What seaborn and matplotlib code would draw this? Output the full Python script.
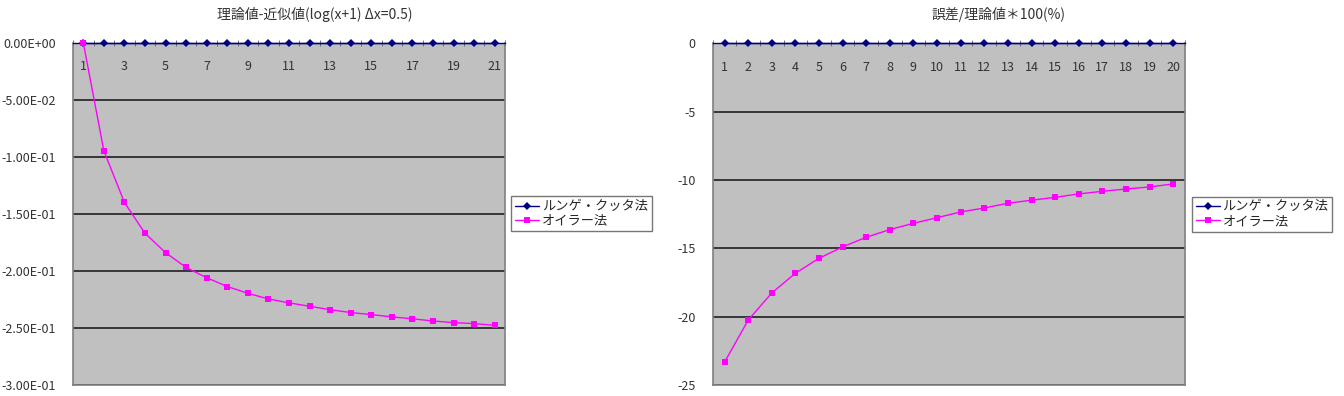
import numpy as np
import pandas as pd
import matplotlib
matplotlib.use("Agg")
import matplotlib.pyplot as plt
from matplotlib.ticker import FuncFormatter, FixedLocator
import seaborn as sns

sns.set_style("white")
plt.rcParams['font.family'] = ['Noto Sans CJK JP', 'DejaVu Sans']

series_names = ["ルンゲ・クッタ法", "オイラー法"]

# Left chart: theoretical - approximate
left_x = list(range(1, 22))
left_rk = [0.0] * 21
left_euler = [0.0, -0.0947, -0.140, -0.167, -0.184, -0.197, -0.206, -0.2137,
              -0.2196, -0.2246, -0.228, -0.231, -0.234, -0.2365, -0.2383,
              -0.2403, -0.242, -0.2439, -0.2453, -0.2462, -0.2477]
left_title = "理論値-近似値(log(x+1) Δx=0.5)"
left_yticks = [-0.30, -0.25, -0.20, -0.15, -0.10, -0.05, 0.0]

# Right chart: error / theoretical * 100 (%)
right_x = list(range(1, 21))
right_rk = [0.0] * 20
right_euler = [-23.34, -20.26, -18.27, -16.83, -15.73, -14.9, -14.19, -13.63,
               -13.17, -12.76, -12.34, -12.05, -11.7, -11.48, -11.27, -11.02,
               -10.83, -10.66, -10.51, -10.29]
right_title = "誤差/理論値＊100(%)"
right_yticks = [-25, -20, -15, -10, -5, 0]

colors = {series_names[0]: "#000080", series_names[1]: "#FF00FF"}
markers = {series_names[0]: "D", series_names[1]: "s"}


def make_df(x, rk, eu):
    return pd.DataFrame({
        "x": list(x) + list(x),
        "v": list(rk) + list(eu),
        "series": [series_names[0]] * len(x) + [series_names[1]] * len(x),
    })


fig = plt.figure(figsize=(13.44, 3.96), dpi=100)
axL = fig.add_axes([73 / 1344, 1 - 385 / 396, 432 / 1344, (385 - 42.7) / 396])
axR = fig.add_axes([712.7 / 1344, 1 - 385 / 396, 472.3 / 1344, (385 - 43.3) / 396])


def style_ax(ax, n, yt, fmt, label_every):
    ax.set_facecolor("#C0C0C0")
    ax.set_xlim(0.5, n + 0.5)
    ax.set_ylim(min(yt), max(yt))
    ax.yaxis.set_major_locator(FixedLocator(yt))
    ax.yaxis.set_major_formatter(FuncFormatter(fmt))
    ax.grid(axis="y", color="#202020", linewidth=1.2)
    ax.grid(axis="x", visible=False)
    for s in ax.spines.values():
        s.set_color("#808080")
        s.set_linewidth(1.2)
    ax.spines["top"].set_color("#000080")
    ax.spines["top"].set_linewidth(1.0)
    ax.set_xticks(range(1, n + 1))
    ax.set_xticklabels([str(i) if (i - 1) % label_every == 0 else "" for i in range(1, n + 1)])
    ax.set_xticks(np.arange(0.5, n + 1, 1.0), minor=True)
    ax.tick_params(axis="x", which="major", top=True, labeltop=True, bottom=False,
                   labelbottom=False, length=0, pad=-22, labelsize=9, labelcolor="#333333")
    ax.tick_params(axis="x", which="minor", top=True, bottom=False, length=4,
                   direction="inout", color="#606060")
    ax.tick_params(axis="y", which="major", left=False, labelsize=9, pad=9,
                   labelcolor="#333333")
    ax.set_xlabel("")
    ax.set_ylabel("")


def fmt_sci(v, p):
    if abs(v) < 1e-12:
        v = 0.0
    return f"{v:.2E}"


def fmt_int(v, p):
    return "0" if abs(v) < 1e-9 else f"{v:.0f}"


for ax, x, rk, eu, yt, fmt, every, title, tx in [
    (axL, left_x, left_rk, left_euler, left_yticks, fmt_sci, 2, left_title, 315 / 1344),
    (axR, right_x, right_rk, right_euler, right_yticks, fmt_int, 1, right_title, 999 / 1344),
]:
    df = make_df(x, rk, eu)
    sns.lineplot(data=df, x="x", y="v", hue="series", style="series",
                 palette=colors, markers=markers, dashes=False, ax=ax,
                 linewidth=1.0, markersize=5, markeredgewidth=0, zorder=5,
                 clip_on=False)
    for line in ax.lines:
        if line.get_marker() == "D":
            line.set_markersize(4)
    style_ax(ax, len(x), yt, fmt, every)
    h, l = ax.get_legend_handles_labels()
    for hh in h:
        if hh.get_marker() == "D":
            hh.set_markersize(4)
    ax.legend(h, l, loc="center left", bbox_to_anchor=(1.015, 0.5), frameon=True,
              fancybox=False, edgecolor="#555555", fontsize=9.5, handlelength=1.8,
              borderpad=0.3, labelspacing=0.1, handletextpad=0.2,
              borderaxespad=0.0)
    fig.text(tx, 1 - 14 / 396, title, ha="center", va="center", fontsize=10,
             color="#333333")

fig.savefig("out.png", dpi=100, facecolor="white")
